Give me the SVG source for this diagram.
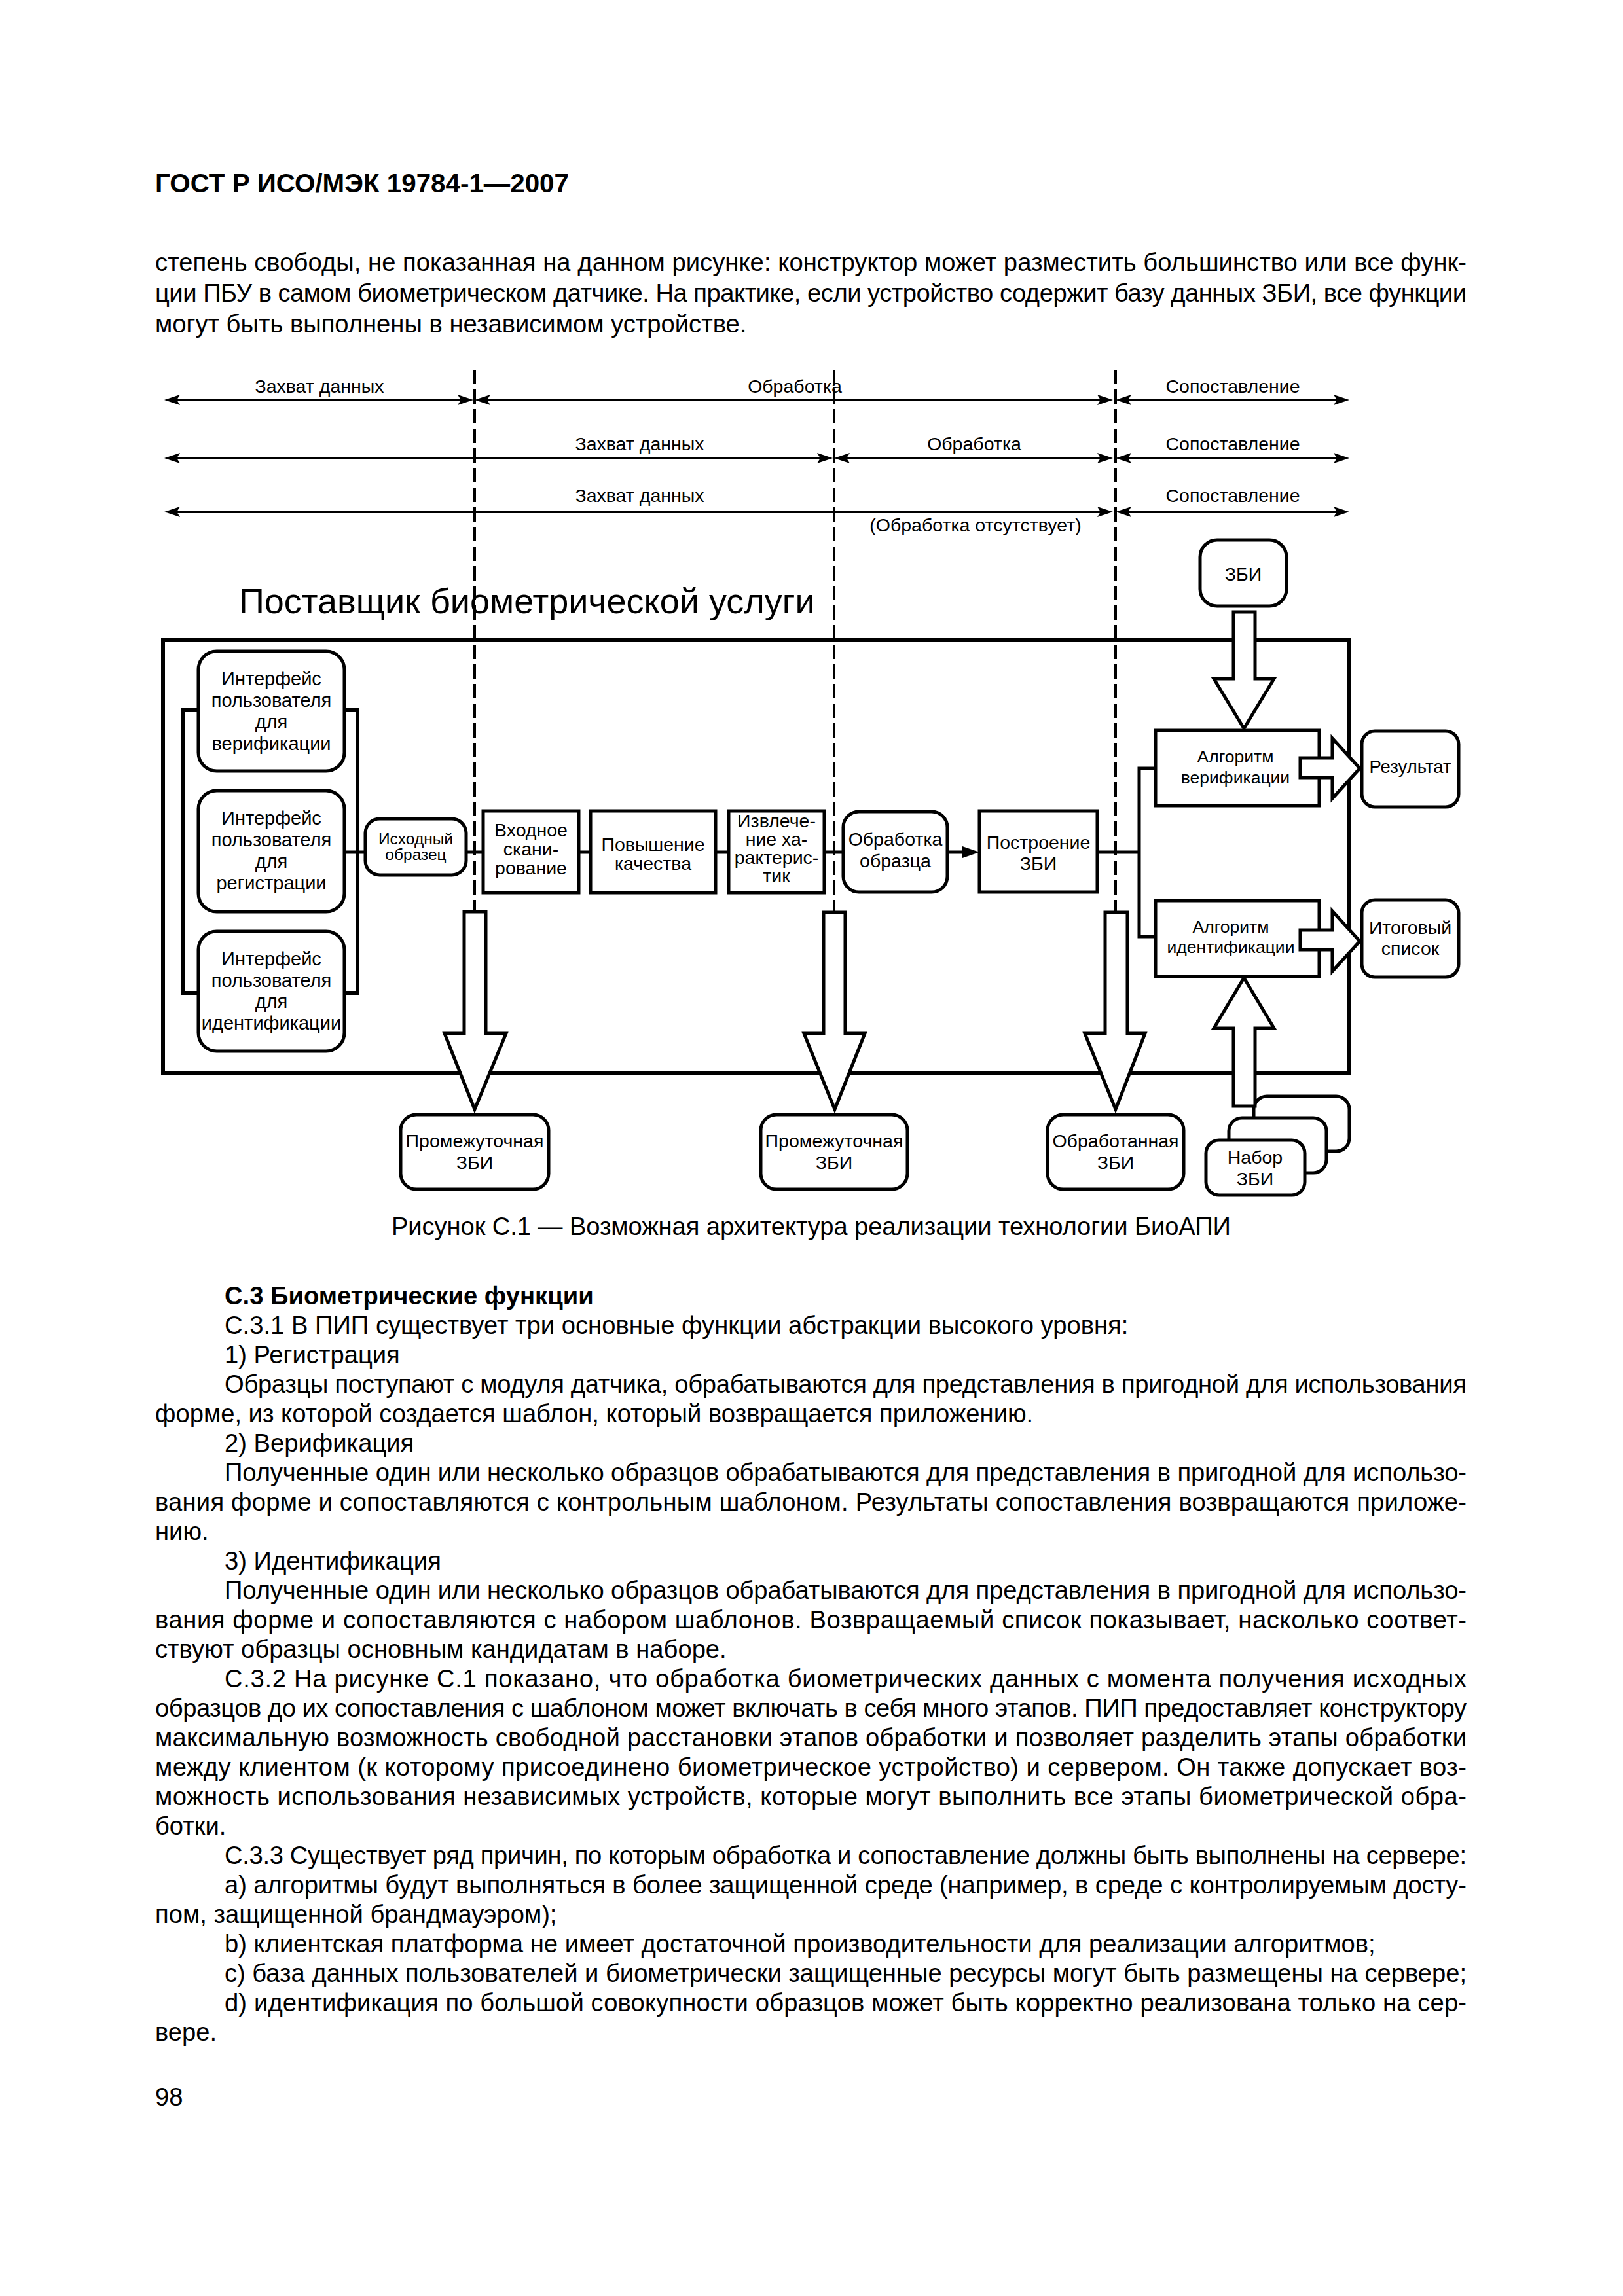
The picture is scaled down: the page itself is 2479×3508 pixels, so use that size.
<svg xmlns="http://www.w3.org/2000/svg" width="2479" height="3508" viewBox="0 0 2479 3508">
<style>
text{font-family:"Liberation Sans",Arial,sans-serif;fill:#000}
.hdr{font-size:40px;font-weight:bold}
.body{font-size:38.2px}
.bold{font-weight:bold}
.lbl{font-size:28.5px;text-anchor:middle}
.sm{font-size:24.5px;text-anchor:middle}
.alg{font-size:26.5px;text-anchor:middle}
.title{font-size:54px}
.box{fill:#fff;stroke:#000;stroke-width:5}
.frame{fill:none;stroke:#000;stroke-width:6}
.ln{stroke:#000;stroke-width:5;fill:none}
.row{stroke:#000;stroke-width:4;fill:none}
.dash{stroke:#000;stroke-width:4;stroke-dasharray:22 8;fill:none}
.ha{fill:#fff;stroke:#000;stroke-width:5;stroke-linejoin:miter}
</style>
<defs>
<marker id="ah" viewBox="0 0 24 16" refX="18" refY="8" markerWidth="24" markerHeight="16" markerUnits="userSpaceOnUse" orient="auto-start-reverse">
<path d="M0,0 L24,8 L0,16 L5,8 Z" fill="#000"/>
</marker>
</defs>

<!-- page text -->
<g id="page-text">
<text class="hdr" x="237" y="294" textLength="632" lengthAdjust="spacingAndGlyphs">ГОСТ Р ИСО/МЭК 19784-1—2007</text>
<text class="body" x="237" y="414" textLength="2003" lengthAdjust="spacing">степень свободы, не показанная на данном рисунке: конструктор может разместить большинство или все функ-</text>
<text class="body" x="237" y="461" textLength="2003" lengthAdjust="spacing">ции ПБУ в самом биометрическом датчике. На практике, если устройство содержит базу данных ЗБИ, все функции</text>
<text class="body" x="237" y="508">могут быть выполнены в независимом устройстве.</text>
</g>

<!-- phase indicators -->
<g id="phases">
<line class="dash" x1="725" y1="565" x2="725" y2="1393"/>
<line class="dash" x1="1274" y1="565" x2="1274" y2="1393"/>
<line class="dash" x1="1704" y1="565" x2="1704" y2="1393"/>
<line class="row" x1="257" y1="611" x2="717" y2="611" marker-start="url(#ah)" marker-end="url(#ah)"/>
<line class="row" x1="731" y1="611" x2="1694" y2="611" marker-start="url(#ah)" marker-end="url(#ah)"/>
<line class="row" x1="1710" y1="611" x2="2055" y2="611" marker-start="url(#ah)" marker-end="url(#ah)"/>
<line class="row" x1="257" y1="700" x2="1266" y2="700" marker-start="url(#ah)" marker-end="url(#ah)"/>
<line class="row" x1="1280" y1="700" x2="1694" y2="700" marker-start="url(#ah)" marker-end="url(#ah)"/>
<line class="row" x1="1710" y1="700" x2="2055" y2="700" marker-start="url(#ah)" marker-end="url(#ah)"/>
<line class="row" x1="257" y1="782" x2="1694" y2="782" marker-start="url(#ah)" marker-end="url(#ah)"/>
<line class="row" x1="1710" y1="782" x2="2055" y2="782" marker-start="url(#ah)" marker-end="url(#ah)"/>
<text class="lbl" x="488" y="600">Захват данных</text>
<text class="lbl" x="1214" y="600">Обработка</text>
<text class="lbl" x="1883" y="600">Сопоставление</text>
<text class="lbl" x="977" y="688">Захват данных</text>
<text class="lbl" x="1488" y="688">Обработка</text>
<text class="lbl" x="1883" y="688">Сопоставление</text>
<text class="lbl" x="977" y="767">Захват данных</text>
<text class="lbl" x="1883" y="767">Сопоставление</text>
<text class="lbl" x="1490" y="812">(Обработка отсутствует)</text>
</g>

<!-- BSP frame -->
<g id="bsp">
<text class="title" x="365" y="937">Поставщик биометрической услуги</text>
<rect class="frame" x="249" y="978" width="1812" height="661"/>
<rect class="frame" x="279" y="1085" width="267" height="432"/>
</g>

<g id="ui-verify">
<rect class="box" x="303" y="995" width="223" height="183" rx="28"/>
<text class="lbl" x="414.5" y="1047" style="font-size:29px">Интерфейс</text>
<text class="lbl" x="414.5" y="1080" style="font-size:29px">пользователя</text>
<text class="lbl" x="414.5" y="1113" style="font-size:29px">для</text>
<text class="lbl" x="414.5" y="1146" style="font-size:29px">верификации</text>
</g>
<g id="ui-enroll">
<rect class="box" x="303" y="1208" width="223" height="185" rx="28"/>
<text class="lbl" x="414.5" y="1260" style="font-size:29px">Интерфейс</text>
<text class="lbl" x="414.5" y="1293" style="font-size:29px">пользователя</text>
<text class="lbl" x="414.5" y="1326" style="font-size:29px">для</text>
<text class="lbl" x="414.5" y="1359" style="font-size:29px">регистрации</text>
</g>
<g id="ui-identify">
<rect class="box" x="303" y="1423" width="223" height="183" rx="28"/>
<text class="lbl" x="414.5" y="1475" style="font-size:29px">Интерфейс</text>
<text class="lbl" x="414.5" y="1508" style="font-size:29px">пользователя</text>
<text class="lbl" x="414.5" y="1540" style="font-size:29px">для</text>
<text class="lbl" x="414.5" y="1573" style="font-size:29px">идентификации</text>
</g>
<g id="raw-sample">
<rect class="box" x="558" y="1251" width="154" height="86" rx="22"/>
<text class="sm" x="635" y="1290">Исходный</text>
<text class="sm" x="635" y="1314">образец</text>
</g>
<g id="scan">
<rect class="box" x="738" y="1239" width="146" height="125"/>
<text class="lbl" x="811" y="1278">Входное</text>
<text class="lbl" x="811" y="1307">скани-</text>
<text class="lbl" x="811" y="1336">рование</text>
</g>
<g id="enhance">
<rect class="box" x="902" y="1239" width="191" height="125"/>
<text class="lbl" x="997.5" y="1300">Повышение</text>
<text class="lbl" x="997.5" y="1329">качества</text>
</g>
<g id="extract">
<rect class="box" x="1113" y="1239" width="146" height="125"/>
<text class="lbl" x="1186" y="1264">Извлече-</text>
<text class="lbl" x="1186" y="1292">ние ха-</text>
<text class="lbl" x="1186" y="1320">рактерис-</text>
<text class="lbl" x="1186" y="1348">тик</text>
</g>
<g id="process">
<rect class="box" x="1288" y="1240" width="159" height="123" rx="24"/>
<text class="lbl" x="1367.5" y="1292">Обработка</text>
<text class="lbl" x="1367.5" y="1325">образца</text>
</g>
<g id="build">
<rect class="box" x="1496" y="1239" width="180" height="124"/>
<text class="lbl" x="1586" y="1297">Построение</text>
<text class="lbl" x="1586" y="1329">ЗБИ</text>
</g>
<g id="verify-alg">
<rect class="box" x="1765" y="1116" width="250" height="115"/>
<text class="alg" x="1887" y="1165">Алгоритм</text>
<text class="alg" x="1887" y="1197">верификации</text>
</g>
<g id="identify-alg">
<rect class="box" x="1765" y="1376" width="250" height="116"/>
<text class="alg" x="1880" y="1425">Алгоритм</text>
<text class="alg" x="1880" y="1456">идентификации</text>
</g>
<g id="result">
<rect class="box" x="2080" y="1117" width="148" height="116" rx="20"/>
<text class="lbl" x="2154" y="1181" style="font-size:27.5px">Результат</text>
</g>
<g id="final-list">
<rect class="box" x="2080" y="1375" width="148" height="118" rx="20"/>
<text class="lbl" x="2154" y="1427">Итоговый</text>
<text class="lbl" x="2154" y="1459">список</text>
</g>
<g id="bir">
<rect class="box" x="1833" y="825" width="132" height="101" rx="26"/>
<text class="lbl" x="1899" y="887">ЗБИ</text>
</g>
<g id="inter-bir-1">
<rect class="box" x="612" y="1703" width="226" height="114" rx="24"/>
<text class="lbl" x="725" y="1753">Промежуточная</text>
<text class="lbl" x="725" y="1786">ЗБИ</text>
</g>
<g id="inter-bir-2">
<rect class="box" x="1162" y="1703" width="224" height="114" rx="24"/>
<text class="lbl" x="1274" y="1753">Промежуточная</text>
<text class="lbl" x="1274" y="1786">ЗБИ</text>
</g>
<g id="processed-bir">
<rect class="box" x="1600" y="1703" width="208" height="114" rx="24"/>
<text class="lbl" x="1704" y="1753">Обработанная</text>
<text class="lbl" x="1704" y="1786">ЗБИ</text>
</g>
<g id="bir-set">
<rect class="box" x="1915" y="1675" width="146" height="84" rx="20"/>
<rect class="box" x="1877" y="1708" width="149" height="84" rx="20"/>
<rect class="box" x="1842" y="1742" width="151" height="84" rx="20"/>
<text class="lbl" x="1917" y="1778">Набор</text>
<text class="lbl" x="1917" y="1811">ЗБИ</text>
</g>

<!-- connectors -->
<g id="connectors">
<line class="ln" x1="526" y1="1302" x2="558" y2="1302"/>
<line class="ln" x1="712" y1="1302" x2="738" y2="1302"/>
<line class="ln" x1="884" y1="1302" x2="902" y2="1302"/>
<line class="ln" x1="1093" y1="1302" x2="1113" y2="1302"/>
<line class="ln" x1="1259" y1="1302" x2="1288" y2="1302"/>
<line class="ln" x1="1447" y1="1302" x2="1474" y2="1302"/>
<polygon points="1470,1293 1496,1302 1470,1311" fill="#000"/>
<polyline class="ln" points="1676,1302 1740,1302"/>
<polyline class="ln" points="1765,1174 1740,1174 1740,1431 1765,1431"/>
<polygon class="ha" points="709,1393 742,1393 742,1579 773,1579 725,1695 679,1579 709,1579"/>
<polygon class="ha" points="1258,1394 1291,1394 1291,1579 1321,1579 1275,1695 1228,1579 1258,1579"/>
<polygon class="ha" points="1688,1394 1722,1394 1722,1579 1749,1579 1704,1695 1657,1579 1688,1579"/>
<polygon class="ha" points="1884,935 1917,935 1917,1037 1946,1037 1900,1113 1854,1037 1884,1037"/>
<polygon class="ha" points="1884,1690 1917,1690 1917,1571 1946,1571 1900,1494 1854,1571 1884,1571"/>
<polygon class="ha" points="1986,1158 2035,1158 2035,1128 2077,1174 2035,1220 2035,1188 1986,1188"/>
<polygon class="ha" points="1986,1421 2035,1421 2035,1392 2077,1438 2035,1484 2035,1451 1986,1451"/>
</g>

<text class="body" x="598" y="1887" textLength="1282" lengthAdjust="spacing">Рисунок С.1 — Возможная архитектура реализации технологии БиоАПИ</text>

<g id="section-text" class="body">
<text class="body bold" x="343" y="1993">С.3 Биометрические функции</text>
<text class="body" x="343" y="2038">С.3.1 В ПИП существует три основные функции абстракции высокого уровня:</text>
<text class="body" x="343" y="2083">1) Регистрация</text>
<text class="body" x="343" y="2128" textLength="1897" lengthAdjust="spacing">Образцы поступают с модуля датчика, обрабатываются для представления в пригодной для использования</text>
<text class="body" x="237" y="2173">форме, из которой создается шаблон, который возвращается приложению.</text>
<text class="body" x="343" y="2218">2) Верификация</text>
<text class="body" x="343" y="2263" textLength="1897" lengthAdjust="spacing">Полученные один или несколько образцов обрабатываются для представления в пригодной для использо-</text>
<text class="body" x="237" y="2308" textLength="2003" lengthAdjust="spacing">вания форме и сопоставляются с контрольным шаблоном. Результаты сопоставления возвращаются приложе-</text>
<text class="body" x="237" y="2353">нию.</text>
<text class="body" x="343" y="2398">3) Идентификация</text>
<text class="body" x="343" y="2443" textLength="1897" lengthAdjust="spacing">Полученные один или несколько образцов обрабатываются для представления в пригодной для использо-</text>
<text class="body" x="237" y="2488" textLength="2003" lengthAdjust="spacing">вания форме и сопоставляются с набором шаблонов. Возвращаемый список показывает, насколько соответ-</text>
<text class="body" x="237" y="2533">ствуют образцы основным кандидатам в наборе.</text>
<text class="body" x="343" y="2578" textLength="1897" lengthAdjust="spacing">С.3.2 На рисунке С.1 показано, что обработка биометрических данных с момента получения исходных</text>
<text class="body" x="237" y="2623" textLength="2003" lengthAdjust="spacing">образцов до их сопоставления с шаблоном может включать в себя много этапов. ПИП предоставляет конструктору</text>
<text class="body" x="237" y="2668" textLength="2003" lengthAdjust="spacing">максимальную возможность свободной расстановки этапов обработки и позволяет разделить этапы обработки</text>
<text class="body" x="237" y="2713" textLength="2003" lengthAdjust="spacing">между клиентом (к которому присоединено биометрическое устройство) и сервером. Он также допускает воз-</text>
<text class="body" x="237" y="2758" textLength="2003" lengthAdjust="spacing">можность использования независимых устройств, которые могут выполнить все этапы биометрической обра-</text>
<text class="body" x="237" y="2803">ботки.</text>
<text class="body" x="343" y="2848" textLength="1897" lengthAdjust="spacing">С.3.3 Существует ряд причин, по которым обработка и сопоставление должны быть выполнены на сервере:</text>
<text class="body" x="343" y="2893" textLength="1897" lengthAdjust="spacing">а) алгоритмы будут выполняться в более защищенной среде (например, в среде с контролируемым досту-</text>
<text class="body" x="237" y="2938">пом, защищенной брандмауэром);</text>
<text class="body" x="343" y="2983">b) клиентская платформа не имеет достаточной производительности для реализации алгоритмов;</text>
<text class="body" x="343" y="3028" textLength="1897" lengthAdjust="spacing">c) база данных пользователей и биометрически защищенные ресурсы могут быть размещены на сервере;</text>
<text class="body" x="343" y="3073" textLength="1897" lengthAdjust="spacing">d) идентификация по большой совокупности образцов может быть корректно реализована только на сер-</text>
<text class="body" x="237" y="3118">вере.</text>
<text class="body" x="237" y="3217">98</text>
</g>
</svg>
